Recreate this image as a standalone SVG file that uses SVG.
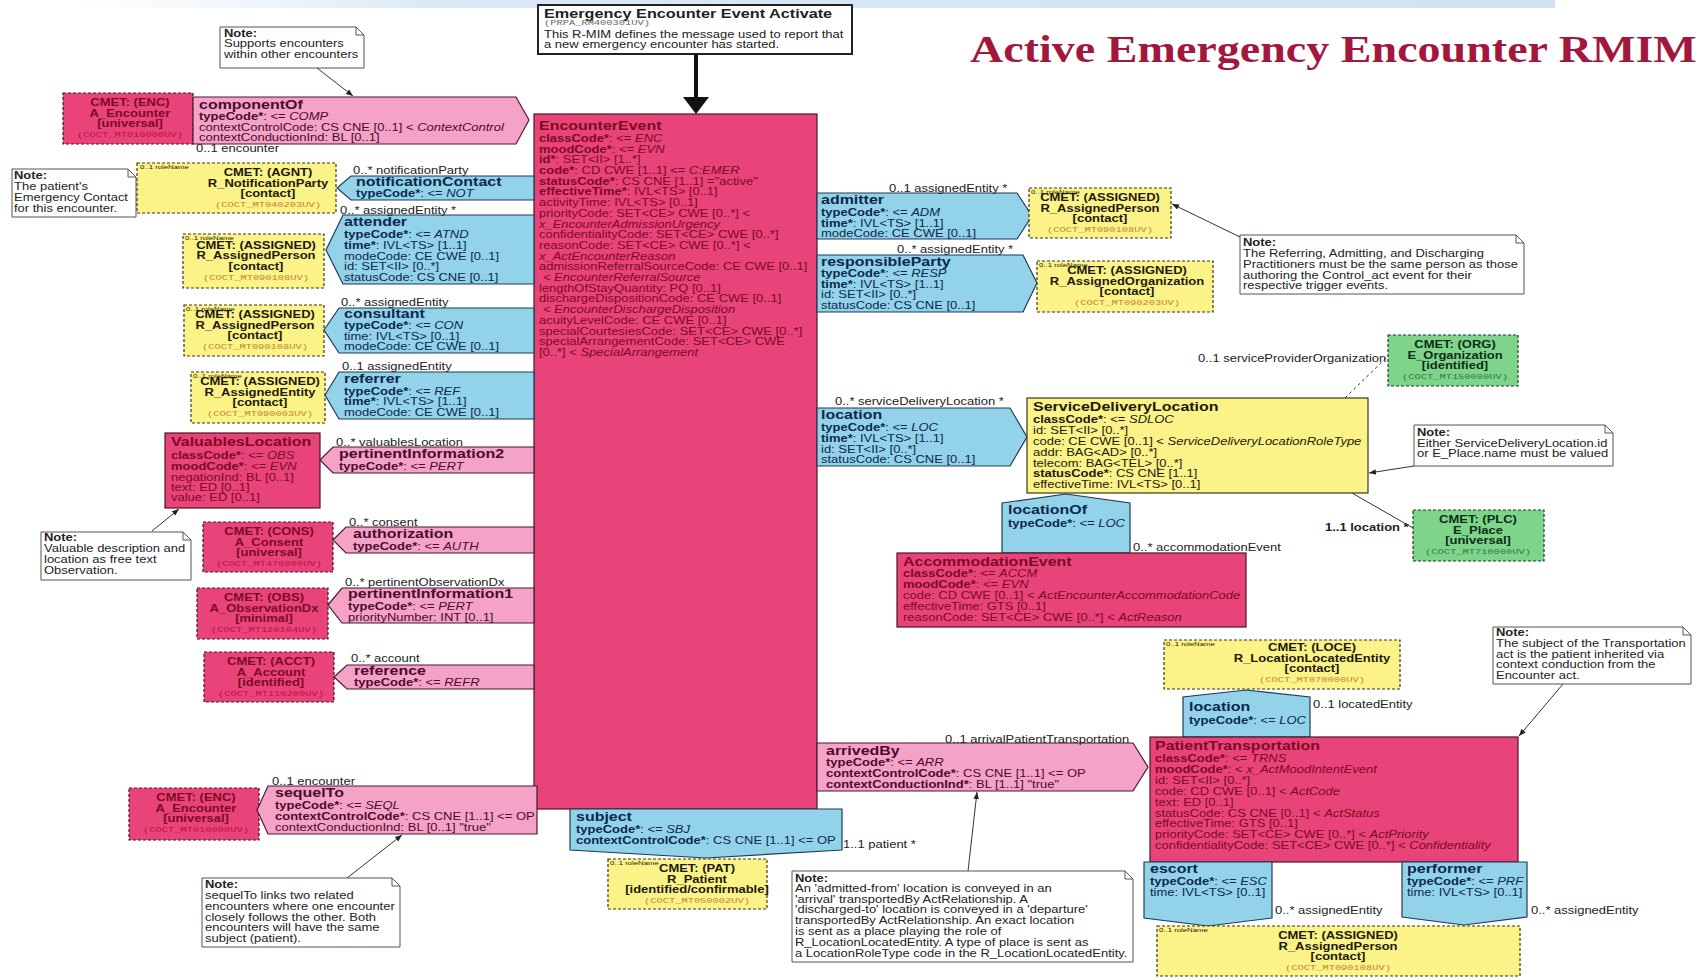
<svg xmlns="http://www.w3.org/2000/svg" width="1701" height="980" viewBox="0 0 1701 980">
<defs>
<style>
.t{font-family:"Liberation Sans",Arial,Helvetica,sans-serif;font-size:10px}
.b{font-weight:bold}
.i{font-style:italic}
.h{font-size:12.3px;font-weight:bold}
.m{font-family:"Liberation Mono","Courier New",monospace;font-size:8px;font-weight:normal}
.rn{font-size:6px;font-weight:normal}
.ttl{font-family:"Liberation Serif","Times New Roman",serif;font-size:37px;font-weight:bold;fill:#a3173d}
.red{fill:#e9447a;stroke:#4a1424;stroke-width:1.2}
.pink{fill:#f4a3c6;stroke:#4a1834;stroke-width:1.2}
.blue{fill:#93d3ea;stroke:#1f3a58;stroke-width:1.2}
.yel{fill:#fbf288;stroke:#3d3618;stroke-width:1.2}
.grn{fill:#7fd48c;stroke:#1e3a22;stroke-width:1.2}
.cm{stroke-dasharray:3 2}
.note{fill:#ffffff;stroke:#555555;stroke-width:1}
.fold{fill:none;stroke:#555555;stroke-width:1}
.tr{fill:#7c0a22}
.tp{fill:#4c0a2e}
.tb{fill:#0c284c}
.ty{fill:#1c1a0c}
.tg{fill:#0e2c14}
.tn{fill:#222222}
.cr{fill:#c0103e}
.cy{fill:#c0862a}
.cg{fill:#2e7a40}
.ln{stroke:#333333;stroke-width:1;fill:none}
.dash{stroke-dasharray:3 3}
</style>
<marker id="ah" viewBox="0 0 10 10" refX="10" refY="5" markerWidth="7" markerHeight="7" orient="auto"><path d="M0 1 L10 5 L0 9 Z" fill="#222222"/></marker>
<linearGradient id="ban" x1="0" y1="0" x2="1" y2="0"><stop offset="0" stop-color="#e6f0f8" stop-opacity="0"/><stop offset="0.25" stop-color="#dbe9f5"/><stop offset="1" stop-color="#cfe2f3"/></linearGradient>
</defs>
<rect x="0" y="0" width="1701" height="980" fill="#ffffff"/>
<rect x="60" y="0" width="1495" height="8" fill="url(#ban)"/>
<text class="ttl" transform="translate(970 62) scale(1.245 1)">Active Emergency Encounter RMIM</text>

<g id="header">
<rect x="538" y="5" width="314" height="49" fill="#ffffff" stroke="#222222" stroke-width="2"/>
<g class="t tn" transform="translate(544 0) scale(1.3 1)">
<text class="b" y="18" style="font-size:12.5px">Emergency Encounter Event Activate</text>
<text class="m" y="25.5" fill="#666666">(PRPA_RM400301UV)</text>
<text y="38">This R-MIM defines the message used to report that</text>
<text y="48.5">a new emergency encounter has started.</text>
</g>
</g>

<g id="encounter-event">
<rect class="red" x="534" y="114" width="283" height="695"/>
<g class="t tr" transform="translate(539 0) scale(1.3 1)">
<text class="h" y="130">EncounterEvent</text>
<text y="142"><tspan class="b">classCode*</tspan>: &lt;= <tspan class="i">ENC</tspan></text>
<text y="152.7"><tspan class="b">moodCode*</tspan>: &lt;= <tspan class="i">EVN</tspan></text>
<text y="163.4"><tspan class="b">id*</tspan>: SET&lt;II&gt; [1..*]</text>
<text y="174.1"><tspan class="b">code*</tspan>: CD CWE [1..1] &lt;= <tspan class="i">C:EMER</tspan></text>
<text y="184.8"><tspan class="b">statusCode*</tspan>: CS CNE [1..1] ="active"</text>
<text y="195.5"><tspan class="b">effectiveTime*</tspan>: IVL&lt;TS&gt; [0..1]</text>
<text y="206.2">activityTime: IVL&lt;TS&gt; [0..1]</text>
<text y="216.9">priorityCode: SET&lt;CE&gt; CWE [0..*] &lt;</text>
<text y="227.6" class="i">x_EncounterAdmissionUrgency</text>
<text y="238.3">confidentialityCode: SET&lt;CE&gt; CWE [0..*]</text>
<text y="249">reasonCode: SET&lt;CE&gt; CWE [0..*] &lt;</text>
<text y="259.7" class="i">x_ActEncounterReason</text>
<text y="270.4">admissionReferralSourceCode: CE CWE [0..1]</text>
<text y="281.1" x="3">&lt; <tspan class="i">EncounterReferralSource</tspan></text>
<text y="291.8">lengthOfStayQuantity: PQ [0..1]</text>
<text y="302.5">dischargeDispositionCode: CE CWE [0..1]</text>
<text y="313.2" x="3">&lt; <tspan class="i">EncounterDischargeDisposition</tspan></text>
<text y="323.9">acuityLevelCode: CE CWE [0..1]</text>
<text y="334.6">specialCourtesiesCode: SET&lt;CE&gt; CWE [0..*]</text>
<text y="345.3">specialArrangementCode: SET&lt;CE&gt; CWE</text>
<text y="356">[0..*] &lt; <tspan class="i">SpecialArrangement</tspan></text>
</g>
</g>

<g id="cmet-encounter-top">
<rect class="red cm" x="63" y="93" width="130" height="51"/>
<g class="t tr" text-anchor="middle" transform="translate(130 0) scale(1.3 1)">
<text class="b" y="106.5">CMET: (ENC)</text>
<text class="b" y="117">A_Encounter</text>
<text class="b" y="127.5">[universal]</text>
<text class="m cr" y="137.5">(COCT_MT010000UV)</text>
</g>
</g>

<g id="componentOf">
<polygon class="pink" points="193,97 516,97 529,120 516,144 193,144"/>
<g class="t tp" transform="translate(199 0) scale(1.3 1)">
<text class="h" y="109">componentOf</text>
<text y="120"><tspan class="b">typeCode*</tspan>: &lt;= <tspan class="i">COMP</tspan></text>
<text y="131">contextControlCode: CS CNE [0..1] &lt; <tspan class="i">ContextControl</tspan></text>
<text y="141.5">contextConductionInd: BL [0..1]</text>
</g>
</g>

<g id="cmet-notification-party">
<rect class="yel cm" x="137" y="163" width="199" height="50"/>
<text class="t rn ty" transform="translate(140 169) scale(1.3 1)">0..1 roleName</text>
<g class="t ty" text-anchor="middle" transform="translate(268 0) scale(1.3 1)">
<text class="b" y="176.5">CMET: (AGNT)</text>
<text class="b" y="187">R_NotificationParty</text>
<text class="b" y="197.5">[contact]</text>
<text class="m cy" y="207.5">(COCT_MT040203UV)</text>
</g>
</g>

<g id="notificationContact">
<polygon class="blue" points="337,188 351,176 534,176 534,200 351,200"/>
<g class="t tb" transform="translate(356 0) scale(1.3 1)">
<text class="h" y="186.5">notificationContact</text>
<text y="197.5"><tspan class="b">typeCode*</tspan>: &lt;= <tspan class="i">NOT</tspan></text>
</g>
</g>

<g id="cmet-assigned-person-attender">
<rect class="yel cm" x="183" y="234" width="141" height="54"/>
<text class="t rn ty" transform="translate(185 240) scale(1.3 1)">0..1 roleName</text>
<g class="t ty" text-anchor="middle" transform="translate(256 0) scale(1.3 1)">
<text class="b" y="249">CMET: (ASSIGNED)</text>
<text class="b" y="259.5">R_AssignedPerson</text>
<text class="b" y="270">[contact]</text>
<text class="m cy" y="280">(COCT_MT090108UV)</text>
</g>
</g>

<g id="attender">
<polygon class="blue" points="326,250 343,215 534,215 534,284 343,284"/>
<g class="t tb" transform="translate(344 0) scale(1.3 1)">
<text class="h" y="226">attender</text>
<text y="238"><tspan class="b">typeCode*</tspan>: &lt;= <tspan class="i">ATND</tspan></text>
<text y="249"><tspan class="b">time*</tspan>: IVL&lt;TS&gt; [1..1]</text>
<text y="260">modeCode: CE CWE [0..1]</text>
<text y="270.5">id: SET&lt;II&gt; [0..*]</text>
<text y="281">statusCode: CS CNE [0..1]</text>
</g>
</g>

<g id="cmet-assigned-person-consultant">
<rect class="yel cm" x="184" y="305" width="140" height="51"/>
<text class="t rn ty" transform="translate(186 311) scale(1.3 1)">0..1 roleName</text>
<g class="t ty" text-anchor="middle" transform="translate(255 0) scale(1.3 1)">
<text class="b" y="318.5">CMET: (ASSIGNED)</text>
<text class="b" y="329">R_AssignedPerson</text>
<text class="b" y="339.5">[contact]</text>
<text class="m cy" y="349.5">(COCT_MT090108UV)</text>
</g>
</g>

<g id="consultant">
<polygon class="blue" points="324,330 339,308 534,308 534,353 339,353"/>
<g class="t tb" transform="translate(344 0) scale(1.3 1)">
<text class="h" y="318.5">consultant</text>
<text y="329"><tspan class="b">typeCode*</tspan>: &lt;= <tspan class="i">CON</tspan></text>
<text y="340">time: IVL&lt;TS&gt; [0..1]</text>
<text y="350.5">modeCode: CE CWE [0..1]</text>
</g>
</g>

<g id="cmet-assigned-entity">
<rect class="yel cm" x="191" y="372" width="134" height="51"/>
<text class="t rn ty" transform="translate(193 378) scale(1.3 1)">0..1 roleName</text>
<g class="t ty" text-anchor="middle" transform="translate(260 0) scale(1.3 1)">
<text class="b" y="385.5">CMET: (ASSIGNED)</text>
<text class="b" y="396">R_AssignedEntity</text>
<text class="b" y="406.5">[contact]</text>
<text class="m cy" y="416.5">(COCT_MT090003UV)</text>
</g>
</g>

<g id="referrer">
<polygon class="blue" points="325,395 339,372 534,372 534,419 339,419"/>
<g class="t tb" transform="translate(344 0) scale(1.3 1)">
<text class="h" y="383">referrer</text>
<text y="395"><tspan class="b">typeCode*</tspan>: &lt;= <tspan class="i">REF</tspan></text>
<text y="405.5"><tspan class="b">time*</tspan>: IVL&lt;TS&gt; [1..1]</text>
<text y="416">modeCode: CE CWE [0..1]</text>
</g>
</g>

<g id="valuables-location">
<rect class="red" x="165" y="433" width="155" height="75"/>
<g class="t tr" transform="translate(171 0) scale(1.3 1)">
<text class="h" y="446.5">ValuablesLocation</text>
<text y="459"><tspan class="b">classCode*</tspan>: &lt;= <tspan class="i">OBS</tspan></text>
<text y="470"><tspan class="b">moodCode*</tspan>: &lt;= <tspan class="i">EVN</tspan></text>
<text y="481">negationInd: BL [0..1]</text>
<text y="491.5">text: ED [0..1]</text>
<text y="501.5">value: ED [0..1]</text>
</g>
</g>

<g id="pertinentInformation2">
<polygon class="pink" points="320,460 333,447 534,447 534,473 333,473"/>
<g class="t tp" transform="translate(339 0) scale(1.3 1)">
<text class="h" y="458">pertinentInformation2</text>
<text y="470"><tspan class="b">typeCode*</tspan>: &lt;= <tspan class="i">PERT</tspan></text>
</g>
</g>

<g id="cmet-consent">
<rect class="red cm" x="203" y="522" width="130" height="50"/>
<g class="t tr" text-anchor="middle" transform="translate(269 0) scale(1.3 1)">
<text class="b" y="535.5">CMET: (CONS)</text>
<text class="b" y="546">A_Consent</text>
<text class="b" y="556.5">[universal]</text>
<text class="m cr" y="566.5">(COCT_MT470000UV)</text>
</g>
</g>

<g id="authorization">
<polygon class="pink" points="333,540 346,527 534,527 534,553 346,553"/>
<g class="t tp" transform="translate(353 0) scale(1.3 1)">
<text class="h" y="538.5">authorization</text>
<text y="550.5"><tspan class="b">typeCode*</tspan>: &lt;= <tspan class="i">AUTH</tspan></text>
</g>
</g>

<g id="cmet-observation-dx">
<rect class="red cm" x="197" y="588" width="131" height="51"/>
<g class="t tr" text-anchor="middle" transform="translate(264 0) scale(1.3 1)">
<text class="b" y="601.5">CMET: (OBS)</text>
<text class="b" y="612">A_ObservationDx</text>
<text class="b" y="622.5">[minimal]</text>
<text class="m cr" y="632.5">(COCT_MT120104UV)</text>
</g>
</g>

<g id="pertinentInformation1">
<polygon class="pink" points="328,605 342,588 534,588 534,623 342,623"/>
<g class="t tp" transform="translate(348 0) scale(1.3 1)">
<text class="h" y="598.5">pertinentInformation1</text>
<text y="610"><tspan class="b">typeCode*</tspan>: &lt;= <tspan class="i">PERT</tspan></text>
<text y="621">priorityNumber: INT [0..1]</text>
</g>
</g>

<g id="cmet-account">
<rect class="red cm" x="204" y="652" width="130" height="50"/>
<g class="t tr" text-anchor="middle" transform="translate(271 0) scale(1.3 1)">
<text class="b" y="665.5">CMET: (ACCT)</text>
<text class="b" y="676">A_Account</text>
<text class="b" y="686.5">[identified]</text>
<text class="m cr" y="696.5">(COCT_MT110200UV)</text>
</g>
</g>

<g id="reference">
<polygon class="pink" points="334,677 347,665 534,665 534,689 347,689"/>
<g class="t tp" transform="translate(354 0) scale(1.3 1)">
<text class="h" y="675">reference</text>
<text y="686.5"><tspan class="b">typeCode*</tspan>: &lt;= <tspan class="i">REFR</tspan></text>
</g>
</g>

<g id="cmet-encounter-bottom">
<rect class="red cm" x="129" y="788" width="130" height="52"/>
<g class="t tr" text-anchor="middle" transform="translate(196 0) scale(1.3 1)">
<text class="b" y="801.5">CMET: (ENC)</text>
<text class="b" y="812">A_Encounter</text>
<text class="b" y="822.5">[universal]</text>
<text class="m cr" y="832.5">(COCT_MT010000UV)</text>
</g>
</g>

<g id="sequelTo">
<polygon class="pink" points="257,810 268,786 537,786 537,834 268,834"/>
<g class="t tp" transform="translate(275 0) scale(1.3 1)">
<text class="h" y="797.5">sequelTo</text>
<text y="809.5"><tspan class="b">typeCode*</tspan>: &lt;= <tspan class="i">SEQL</tspan></text>
<text y="820"><tspan class="b">contextControlCode*</tspan>: CS CNE [1..1] &lt;= OP</text>
<text y="831">contextConductionInd: BL [0..1] "true"</text>
</g>
</g>

<g id="subject">
<polygon class="blue" points="570,809 842,809 842,850 706,858 570,850"/>
<g class="t tb" transform="translate(576 0) scale(1.3 1)">
<text class="h" y="821">subject</text>
<text y="833.5"><tspan class="b">typeCode*</tspan>: &lt;= <tspan class="i">SBJ</tspan></text>
<text y="844.5"><tspan class="b">contextControlCode*</tspan>: CS CNE [1..1] &lt;= OP</text>
</g>
</g>

<g id="cmet-patient">
<rect class="yel cm" x="608" y="859" width="159" height="50"/>
<text class="t rn ty" transform="translate(610 865) scale(1.3 1)">0..1 roleName</text>
<g class="t ty" text-anchor="middle" transform="translate(697 0) scale(1.3 1)">
<text class="b" y="872.5">CMET: (PAT)</text>
<text class="b" y="883">R_Patient</text>
<text class="b" y="893.5">[identified/confirmable]</text>
<text class="m cy" y="903.5">(COCT_MT050002UV)</text>
</g>
</g>

<g id="admitter">
<polygon class="blue" points="817,193 1017,193 1032,216 1017,239 817,239"/>
<g class="t tb" transform="translate(821 0) scale(1.3 1)">
<text class="h" y="204">admitter</text>
<text y="216"><tspan class="b">typeCode*</tspan>: &lt;= <tspan class="i">ADM</tspan></text>
<text y="227"><tspan class="b">time*</tspan>: IVL&lt;TS&gt; [1..1]</text>
<text y="237.5">modeCode: CE CWE [0..1]</text>
</g>
</g>

<g id="cmet-assigned-person-admitter">
<rect class="yel cm" x="1029" y="188" width="142" height="50"/>
<text class="t rn ty" transform="translate(1031 194) scale(1.3 1)">0..1 roleName</text>
<g class="t ty" text-anchor="middle" transform="translate(1100 0) scale(1.3 1)">
<text class="b" y="201.5">CMET: (ASSIGNED)</text>
<text class="b" y="212">R_AssignedPerson</text>
<text class="b" y="222.5">[contact]</text>
<text class="m cy" y="232.5">(COCT_MT090108UV)</text>
</g>
</g>

<g id="responsibleParty">
<polygon class="blue" points="817,255 1023,255 1037,283 1023,312 817,312"/>
<g class="t tb" transform="translate(821 0) scale(1.3 1)">
<text class="h" y="266">responsibleParty</text>
<text y="277"><tspan class="b">typeCode*</tspan>: &lt;= <tspan class="i">RESP</tspan></text>
<text y="288"><tspan class="b">time*</tspan>: IVL&lt;TS&gt; [1..1]</text>
<text y="298.5">id: SET&lt;II&gt; [0..*]</text>
<text y="309">statusCode: CS CNE [0..1]</text>
</g>
</g>

<g id="cmet-assigned-organization">
<rect class="yel cm" x="1037" y="261" width="176" height="51"/>
<text class="t rn ty" transform="translate(1039 267) scale(1.3 1)">0..1 roleName</text>
<g class="t ty" text-anchor="middle" transform="translate(1127 0) scale(1.3 1)">
<text class="b" y="274.5">CMET: (ASSIGNED)</text>
<text class="b" y="285">R_AssignedOrganization</text>
<text class="b" y="295.5">[contact]</text>
<text class="m cy" y="305.5">(COCT_MT090203UV)</text>
</g>
</g>

<g id="location">
<polygon class="blue" points="817,408 1010,408 1027,437 1010,466 817,466"/>
<g class="t tb" transform="translate(821 0) scale(1.3 1)">
<text class="h" y="419">location</text>
<text y="431"><tspan class="b">typeCode*</tspan>: &lt;= <tspan class="i">LOC</tspan></text>
<text y="442.5"><tspan class="b">time*</tspan>: IVL&lt;TS&gt; [1..1]</text>
<text y="453.5">id: SET&lt;II&gt; [0..*]</text>
<text y="463.5">statusCode: CS CNE [0..1]</text>
</g>
</g>

<g id="service-delivery-location">
<rect class="yel" x="1027" y="398" width="341" height="95"/>
<g class="t ty" transform="translate(1033 0) scale(1.3 1)">
<text class="h" y="411">ServiceDeliveryLocation</text>
<text y="423.5"><tspan class="b">classCode*</tspan>: &lt;= <tspan class="i">SDLOC</tspan></text>
<text y="434.5">id: SET&lt;II&gt; [0..*]</text>
<text y="445">code: CE CWE [0..1] &lt; <tspan class="i">ServiceDeliveryLocationRoleType</tspan></text>
<text y="456">addr: BAG&lt;AD&gt; [0..*]</text>
<text y="466.8">telecom: BAG&lt;TEL&gt; [0..*]</text>
<text y="477.5"><tspan class="b">statusCode*</tspan>: CS CNE [1..1]</text>
<text y="488.5">effectiveTime: IVL&lt;TS&gt; [0..1]</text>
</g>
</g>

<g id="cmet-organization">
<rect class="grn cm" x="1388" y="335" width="130" height="51"/>
<g class="t tg" text-anchor="middle" transform="translate(1455 0) scale(1.3 1)">
<text class="b" y="348.5">CMET: (ORG)</text>
<text class="b" y="359">E_Organization</text>
<text class="b" y="369.5">[identified]</text>
<text class="m cg" y="379.5">(COCT_MT150000UV)</text>
</g>
</g>

<g id="cmet-place">
<rect class="grn cm" x="1413" y="510" width="131" height="51"/>
<g class="t tg" text-anchor="middle" transform="translate(1478 0) scale(1.3 1)">
<text class="b" y="523.5">CMET: (PLC)</text>
<text class="b" y="534">E_Place</text>
<text class="b" y="544.5">[universal]</text>
<text class="m cg" y="554.5">(COCT_MT710000UV)</text>
</g>
</g>

<g id="locationOf">
<polygon class="blue" points="1002,553 1002,503 1066,494 1130,503 1130,553"/>
<g class="t tb" transform="translate(1008 0) scale(1.3 1)">
<text class="h" y="514.5">locationOf</text>
<text y="527.5"><tspan class="b">typeCode*</tspan>: &lt;= <tspan class="i">LOC</tspan></text>
</g>
</g>

<g id="accommodation-event">
<rect class="red" x="897" y="553" width="349" height="74"/>
<g class="t tr" transform="translate(903 0) scale(1.3 1)">
<text class="h" y="566">AccommodationEvent</text>
<text y="577.5"><tspan class="b">classCode*</tspan>: &lt;= <tspan class="i">ACCM</tspan></text>
<text y="588.5"><tspan class="b">moodCode*</tspan>: &lt;= <tspan class="i">EVN</tspan></text>
<text y="599">code: CD CWE [0..1] &lt; <tspan class="i">ActEncounterAccommodationCode</tspan></text>
<text y="610">effectiveTime: GTS [0..1]</text>
<text y="621">reasonCode: SET&lt;CE&gt; CWE [0..*] &lt; <tspan class="i">ActReason</tspan></text>
</g>
</g>

<g id="cmet-location-located-entity">
<rect class="yel cm" x="1164" y="640" width="236" height="49"/>
<text class="t rn ty" transform="translate(1166 646) scale(1.3 1)">0..1 roleName</text>
<g class="t ty" text-anchor="middle" transform="translate(1312 0) scale(1.3 1)">
<text class="b" y="651.5">CMET: (LOCE)</text>
<text class="b" y="662">R_LocationLocatedEntity</text>
<text class="b" y="672.5">[contact]</text>
<text class="m cy" y="682.5">(COCT_MT070000UV)</text>
</g>
</g>

<g id="location-transport">
<polygon class="blue" points="1183,737 1183,697 1246,690 1310,697 1310,737"/>
<g class="t tb" transform="translate(1189 0) scale(1.3 1)">
<text class="h" y="711">location</text>
<text y="724"><tspan class="b">typeCode*</tspan>: &lt;= <tspan class="i">LOC</tspan></text>
</g>
</g>

<g id="arrivedBy">
<polygon class="pink" points="817,743 1133,743 1148,767 1133,791 817,791"/>
<g class="t tp" transform="translate(826 0) scale(1.3 1)">
<text class="h" y="755">arrivedBy</text>
<text y="766.5"><tspan class="b">typeCode*</tspan>: &lt;= <tspan class="i">ARR</tspan></text>
<text y="777.5"><tspan class="b">contextControlCode*</tspan>: CS CNE [1..1] &lt;= OP</text>
<text y="788.5"><tspan class="b">contextConductionInd*</tspan>: BL [1..1] "true"</text>
</g>
</g>

<g id="patient-transportation">
<rect class="red" x="1150" y="737" width="368" height="125"/>
<g class="t tr" transform="translate(1155 0) scale(1.3 1)">
<text class="h" y="750.5">PatientTransportation</text>
<text y="762.5"><tspan class="b">classCode*</tspan>: &lt;= <tspan class="i">TRNS</tspan></text>
<text y="773.5"><tspan class="b">moodCode*</tspan>: &lt; <tspan class="i">x_ActMoodIntentEvent</tspan></text>
<text y="784">id: SET&lt;II&gt; [0..*]</text>
<text y="795">code: CD CWE [0..1] &lt; <tspan class="i">ActCode</tspan></text>
<text y="806">text: ED [0..1]</text>
<text y="816.8">statusCode: CS CNE [0..1] &lt; <tspan class="i">ActStatus</tspan></text>
<text y="827.5">effectiveTime: GTS [0..1]</text>
<text y="838.5">priorityCode: SET&lt;CE&gt; CWE [0..*] &lt; <tspan class="i">ActPriority</tspan></text>
<text y="849.5">confidentialityCode: SET&lt;CE&gt; CWE [0..*] &lt; <tspan class="i">Confidentiality</tspan></text>
</g>
</g>

<g id="escort">
<polygon class="blue" points="1144,862 1272,862 1272,918 1208,926 1144,918"/>
<g class="t tb" transform="translate(1150 0) scale(1.3 1)">
<text class="h" y="873.5">escort</text>
<text y="885.5"><tspan class="b">typeCode*</tspan>: &lt;= <tspan class="i">ESC</tspan></text>
<text y="896">time: IVL&lt;TS&gt; [0..1]</text>
</g>
</g>

<g id="performer">
<polygon class="blue" points="1402,862 1527,862 1527,917 1464,925 1402,917"/>
<g class="t tb" transform="translate(1407 0) scale(1.3 1)">
<text class="h" y="873.5">performer</text>
<text y="885.5"><tspan class="b">typeCode*</tspan>: &lt;= <tspan class="i">PRF</tspan></text>
<text y="896">time: IVL&lt;TS&gt; [0..1]</text>
</g>
</g>

<g id="cmet-assigned-person-bottom">
<rect class="yel cm" x="1157" y="926" width="363" height="50"/>
<text class="t rn ty" transform="translate(1159 932) scale(1.3 1)">0..1 roleName</text>
<g class="t ty" text-anchor="middle" transform="translate(1338 0) scale(1.3 1)">
<text class="b" y="939.5">CMET: (ASSIGNED)</text>
<text class="b" y="950">R_AssignedPerson</text>
<text class="b" y="960.5">[contact]</text>
<text class="m cy" y="970.5">(COCT_MT090108UV)</text>
</g>
</g>

<g id="note-supports">
<path class="note" d="M220 27 H356 L364 35 V68 H220 Z"/>
<path class="fold" d="M356 27 V35 H364"/>
<g class="t tn" transform="translate(224 0) scale(1.3 1)">
<text class="b" y="37">Note:</text>
<text y="47.5">Supports encounters</text>
<text y="58">within other encounters</text>
</g>
</g>

<g id="note-emergency-contact">
<path class="note" d="M12 169 H128 L136 177 V217 H12 Z"/>
<path class="fold" d="M128 169 V177 H136"/>
<g class="t tn" transform="translate(14 0) scale(1.3 1)">
<text class="b" y="179">Note:</text>
<text y="190">The patient's</text>
<text y="200.8">Emergency Contact</text>
<text y="211.8">for this encounter.</text>
</g>
</g>

<g id="note-practitioners">
<path class="note" d="M1240 235 H1516 L1524 243 V294 H1240 Z"/>
<path class="fold" d="M1516 235 V243 H1524"/>
<g class="t tn" transform="translate(1243 0) scale(1.3 1)">
<text class="b" y="246">Note:</text>
<text y="257.5">The Referring, Admitting, and Discharging</text>
<text y="268.5">Practitioners must be the same person as those</text>
<text y="279">authoring the Control_act event for their</text>
<text y="289.5">respective trigger events.</text>
</g>
</g>

<g id="note-valuables">
<path class="note" d="M41 532 H183 L191 540 V580 H41 Z"/>
<path class="fold" d="M183 532 V540 H191"/>
<g class="t tn" transform="translate(44 0) scale(1.3 1)">
<text class="b" y="541">Note:</text>
<text y="552.5">Valuable description and</text>
<text y="563.5">location as free text</text>
<text y="574">Observation.</text>
</g>
</g>

<g id="note-sequelTo">
<path class="note" d="M202 878 H392 L400 886 V947 H202 Z"/>
<path class="fold" d="M392 878 V886 H400"/>
<g class="t tn" transform="translate(205 0) scale(1.3 1)">
<text class="b" y="888.5">Note:</text>
<text y="899.5">sequelTo links two related</text>
<text y="910">encounters where one encounter</text>
<text y="920.8">closely follows the other.  Both</text>
<text y="931">encounters will have the same</text>
<text y="942">subject (patient).</text>
</g>
</g>

<g id="note-admitted-from">
<path class="note" d="M792 871 H1125 L1133 879 V962 H792 Z"/>
<path class="fold" d="M1125 871 V879 H1133"/>
<g class="t tn" transform="translate(795 0) scale(1.3 1)">
<text class="b" y="882">Note:</text>
<text y="892">An 'admitted-from' location is conveyed in an</text>
<text y="903">'arrival' transportedBy ActRelationship.  A</text>
<text y="913.5">'discharged-to' location is conveyed in a 'departure'</text>
<text y="924">transportedBy ActRelationship.  An exact location</text>
<text y="935">is sent as a place playing the role of</text>
<text y="946">R_LocationLocatedEntity.  A type of place is sent as</text>
<text y="957">a LocationRoleType code in the R_LocationLocatedEntity.</text>
</g>
</g>

<g id="note-either">
<path class="note" d="M1414 425 H1605 L1613 433 V466 H1414 Z"/>
<path class="fold" d="M1605 425 V433 H1613"/>
<g class="t tn" transform="translate(1417 0) scale(1.3 1)">
<text class="b" y="436">Note:</text>
<text y="447">Either ServiceDeliveryLocation.id</text>
<text y="457">or E_Place.name must be valued</text>
</g>
</g>

<g id="note-transportation">
<path class="note" d="M1493 627 H1683 L1691 635 V684 H1493 Z"/>
<path class="fold" d="M1683 627 V635 H1691"/>
<g class="t tn" transform="translate(1496 0) scale(1.3 1)">
<text class="b" y="636">Note:</text>
<text y="647">The subject of the Transportation</text>
<text y="658">act is the patient inherited via</text>
<text y="668.5">context conduction from the</text>
<text y="679">Encounter act.</text>
</g>
</g>

<g id="connectors">
<line x1="696" y1="54" x2="696" y2="99" stroke="#111111" stroke-width="4"/>
<polygon points="683,97 709,97 696,114" fill="#111111"/>
<line class="ln" x1="317" y1="68" x2="353" y2="96" marker-end="url(#ah)"/>
<line class="ln" x1="1240" y1="237" x2="1172" y2="204" marker-end="url(#ah)"/>
<line class="ln" x1="152" y1="531" x2="179" y2="509" marker-end="url(#ah)"/>
<line class="ln" x1="347" y1="878" x2="402" y2="835" marker-end="url(#ah)"/>
<line class="ln" x1="968" y1="871" x2="977" y2="792" marker-end="url(#ah)"/>
<line class="ln" x1="1414" y1="466" x2="1369" y2="473" marker-end="url(#ah)"/>
<line class="ln" x1="1563" y1="684" x2="1519" y2="736" marker-end="url(#ah)"/>
<line class="ln dash" x1="1345" y1="398" x2="1388" y2="356"/>
<line class="ln" x1="1352" y1="493" x2="1413" y2="528"/>
</g>

<g id="labels" class="t tn">
<text transform="translate(196 152) scale(1.3 1)">0..1 encounter</text>
<text transform="translate(353 174) scale(1.3 1)">0..* notificationParty</text>
<text transform="translate(340 214) scale(1.3 1)">0..* assignedEntity  *</text>
<text transform="translate(341 306) scale(1.3 1)">0..* assignedEntity</text>
<text transform="translate(342 370) scale(1.3 1)">0..1 assignedEntity</text>
<text transform="translate(336 446) scale(1.3 1)">0..* valuablesLocation</text>
<text transform="translate(349 526) scale(1.3 1)">0..* consent</text>
<text transform="translate(345 586) scale(1.3 1)">0..* pertinentObservationDx</text>
<text transform="translate(351 662) scale(1.3 1)">0..* account</text>
<text transform="translate(272 785) scale(1.3 1)">0..1 encounter</text>
<text transform="translate(889 192) scale(1.3 1)">0..1 assignedEntity  *</text>
<text transform="translate(897 253) scale(1.3 1)">0..* assignedEntity  *</text>
<text transform="translate(1198 362) scale(1.3 1)">0..1 serviceProviderOrganization</text>
<text transform="translate(835 405) scale(1.3 1)">0..* serviceDeliveryLocation  *</text>
<text transform="translate(1133 551) scale(1.3 1)">0..* accommodationEvent</text>
<text class="b" transform="translate(1325 531) scale(1.3 1)">1..1 location  *</text>
<text transform="translate(1313 708) scale(1.3 1)">0..1 locatedEntity</text>
<text transform="translate(945 743) scale(1.3 1)">0..1 arrivalPatientTransportation</text>
<text transform="translate(843 848) scale(1.3 1)">1..1 patient  *</text>
<text transform="translate(1275 914) scale(1.3 1)">0..* assignedEntity</text>
<text transform="translate(1531 914) scale(1.3 1)">0..* assignedEntity</text>
</g>
</svg>
